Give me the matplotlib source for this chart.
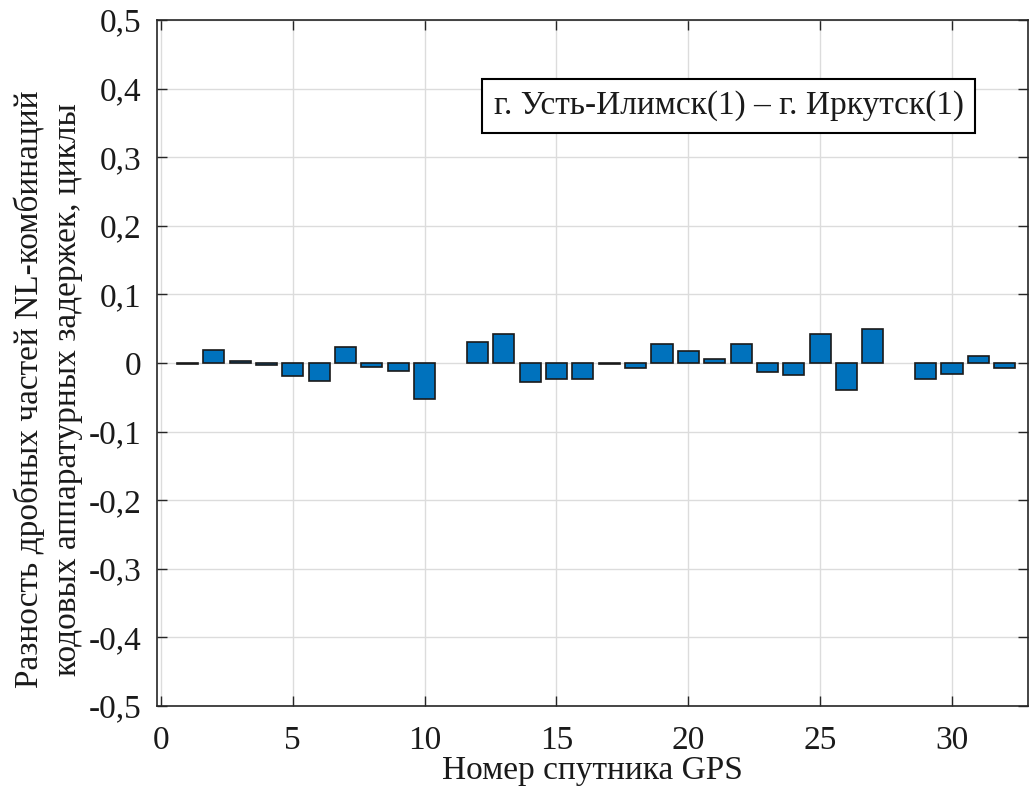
import matplotlib
matplotlib.use("Agg")
import matplotlib.pyplot as plt
from matplotlib.ticker import MultipleLocator, FuncFormatter
import numpy as np

plt.rcParams['font.family'] = ['Liberation Serif', 'DejaVu Serif']
plt.rcParams['axes.unicode_minus'] = False

# номера спутников GPS и разности дробных частей (циклы)
sat = [1, 2, 3, 4, 5, 6, 7, 8, 9, 10,
       12, 13, 14, 15, 16, 17, 18, 19, 20, 21, 22,
       23, 24, 25, 26, 27, 29, 30, 31, 32]
dfrac = [-0.001, 0.019, 0.003, -0.0025, -0.019, -0.026, 0.0235, -0.006, -0.012, -0.053,
         0.031, 0.042, -0.027, -0.024, -0.023, -0.001, -0.008, 0.028, 0.017, 0.006, 0.027,
         -0.0125, -0.017, 0.043, -0.040, 0.049, -0.023, -0.016, 0.0096, -0.007]
label = 'г. Усть-Илимск(1) – г. Иркутск(1)'

fs = 24
fig = plt.figure(figsize=(10.29, 7.9), dpi=100)
ax = fig.add_axes([157/1029, 1 - 706/790, 1 - 157/1029 - 0.0005, 686/790])

ax.bar(sat, dfrac, width=0.8, color='#0072BD', edgecolor='#1a1a1a', linewidth=1.2, zorder=3)

ax.set_xlim(-0.15, 32.9)
ax.set_ylim(-0.5, 0.5)
ax.xaxis.set_major_locator(MultipleLocator(5))
ax.yaxis.set_major_locator(MultipleLocator(0.1))

def comma(v, pos):
    if abs(v) < 1e-9:
        return '0'
    return ('%.1f' % v).replace('.', ',')

ax.yaxis.set_major_formatter(FuncFormatter(comma))
ax.xaxis.set_major_formatter(FuncFormatter(lambda v, p: '%d' % round(v)))

ax.grid(True, color='#dcdcdc', linewidth=1.0, zorder=0)
ax.set_axisbelow(True)
for s in ax.spines.values():
    s.set_color('#262626')
    s.set_linewidth(1.2)
ax.tick_params(direction='in', length=7, width=1.0, colors='#262626',
               top=True, right=True, labelsize=fs, labelcolor='#1a1a1a')
ax.tick_params(axis='y', pad=11)
ax.tick_params(axis='x', pad=14)

ax.set_xlabel('Номер спутника GPS', fontsize=fs, color='#1a1a1a', labelpad=0)
ax.set_ylabel('Разность дробных частей NL-комбинаций\nкодовых аппаратурных задержек, циклы',
              fontsize=fs, color='#1a1a1a', linespacing=1.3)
ax.yaxis.set_label_coords(-0.085, 0.462)

ax.text(0.656, 0.875, label, transform=ax.transAxes, ha='center', va='center',
        fontsize=fs, color='#1a1a1a', zorder=5,
        bbox=dict(boxstyle='square,pad=0.35', facecolor='white', edgecolor='black', linewidth=1.5))

fig.savefig('out.png', dpi=100)
